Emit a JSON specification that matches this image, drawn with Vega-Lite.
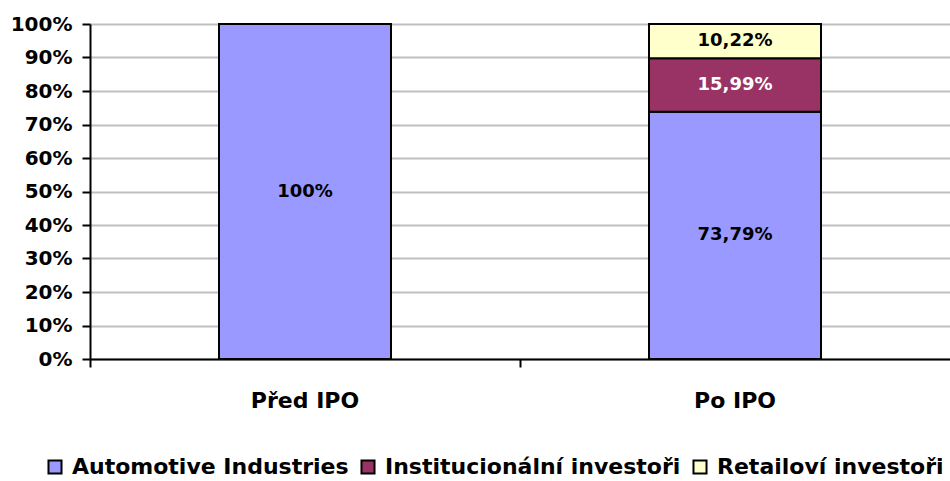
{
  "$schema": "https://vega.github.io/schema/vega-lite/v6.json",
  "width": 860,
  "height": 335,
  "autosize": "none",
  "padding": {"left": 90, "top": 24, "right": 0, "bottom": 122},
  "background": "white",
  "config": {"view": {"stroke": null}, "font": "DejaVu Sans"},
  "data": {
    "values": [
      {"faze": "Před IPO", "skupina": "Automotive Industries", "podil": 100, "popisek": "100%"},
      {"faze": "Po IPO", "skupina": "Automotive Industries", "podil": 73.79, "popisek": "73,79%"},
      {"faze": "Po IPO", "skupina": "Institucionální investoři", "podil": 15.99, "popisek": "15,99%"},
      {"faze": "Po IPO", "skupina": "Retailoví investoři", "podil": 10.22, "popisek": "10,22%"}
    ]
  },
  "layer": [
    {
      "mark": {"type": "bar", "stroke": "black", "strokeWidth": 2},
      "encoding": {
        "x": {
          "field": "faze",
          "type": "nominal",
          "sort": ["Před IPO", "Po IPO"],
          "scale": {"paddingInner": 0.6, "paddingOuter": 0.3},
          "axis": {
            "title": null,
            "labelAngle": 0,
            "ticks": true,
            "bandPosition": -0.75,
            "tickColor": "black",
            "tickWidth": 2,
            "tickSize": 8,
            "domainColor": "black",
            "domainWidth": 2,
            "labelFont": "DejaVu Sans",
            "labelFontSize": 22,
            "labelFontWeight": "bold",
            "labelColor": "black",
            "labelPadding": 23,
            "grid": false
          }
        },
        "y": {
          "field": "podil",
          "type": "quantitative",
          "stack": "zero",
          "scale": {"domain": [0, 100], "nice": false},
          "axis": {
            "title": null,
            "values": [0, 10, 20, 30, 40, 50, 60, 70, 80, 90, 100],
            "tickCount": 12,
            "labelOverlap": false,
            "labelExpr": "datum.value + '%'",
            "grid": true,
            "gridColor": "#c0c0c0",
            "gridWidth": 2,
            "domainColor": "black",
            "domainWidth": 2,
            "tickColor": "black",
            "tickWidth": 2,
            "tickSize": 8,
            "labelPadding": 10,
            "labelFont": "DejaVu Sans",
            "labelFontSize": 20,
            "labelFontWeight": "bold",
            "labelColor": "black"
          }
        },
        "order": {"field": "skupina", "type": "nominal", "sort": "ascending"},
        "color": {
          "field": "skupina",
          "type": "nominal",
          "scale": {
            "domain": ["Automotive Industries", "Institucionální investoři", "Retailoví investoři"],
            "range": ["#9999FF", "#993366", "#FFFFCC"]
          },
          "legend": {
            "title": null,
            "orient": "none",
            "direction": "horizontal",
            "legendX": -46,
            "legendY": 432,
            "padding": 0,
            "symbolType": "square",
            "symbolSize": 170,
            "symbolStrokeColor": "black",
            "symbolStrokeWidth": 2,
            "symbolOpacity": 1,
            "labelFont": "DejaVu Sans",
            "labelFontSize": 22,
            "labelFontWeight": "bold",
            "labelColor": "black",
            "labelOffset": 6,
            "columnPadding": 8,
            "labelLimit": 400
          }
        }
      }
    },
    {
      "mark": {"type": "text", "font": "DejaVu Sans", "fontSize": 18, "fontWeight": "bold", "baseline": "middle"},
      "encoding": {
        "x": {"field": "faze", "type": "nominal", "sort": ["Před IPO", "Po IPO"]},
        "y": {
          "field": "podil",
          "type": "quantitative",
          "stack": "zero",
          "bandPosition": 0.5,
          "axis": {
            "title": null,
            "values": [0, 10, 20, 30, 40, 50, 60, 70, 80, 90, 100],
            "tickCount": 12,
            "labelOverlap": false,
            "labelExpr": "datum.value + '%'",
            "grid": true,
            "gridColor": "#c0c0c0",
            "gridWidth": 2,
            "domainColor": "black",
            "domainWidth": 2,
            "tickColor": "black",
            "tickWidth": 2,
            "tickSize": 8,
            "labelPadding": 10,
            "labelFont": "DejaVu Sans",
            "labelFontSize": 20,
            "labelFontWeight": "bold",
            "labelColor": "black"
          }
        },
        "detail": {"field": "skupina", "type": "nominal"},
        "order": {"field": "skupina", "type": "nominal", "sort": "ascending"},
        "text": {"field": "popisek", "type": "nominal"},
        "color": {
          "condition": {"test": "datum.skupina === 'Institucionální investoři'", "value": "white"},
          "value": "black"
        }
      }
    }
  ]
}
